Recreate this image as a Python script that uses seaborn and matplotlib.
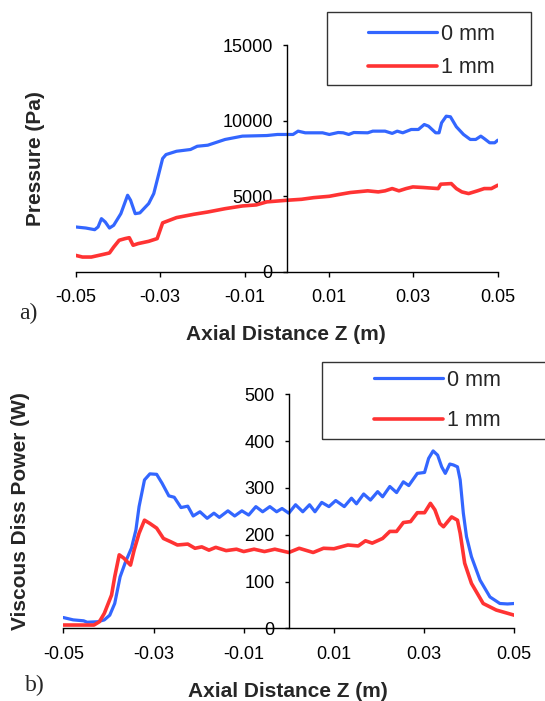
import matplotlib
matplotlib.use("Agg")
import matplotlib.pyplot as plt
from matplotlib.patches import Rectangle
import seaborn as sns
import pandas as pd

# ---------------- data ----------------
series_labels = ["0 mm", "1 mm"]
x_ticks = [-0.05, -0.03, -0.01, 0.01, 0.03, 0.05]
x_tick_labels = ["-0.05", "-0.03", "-0.01", "0.01", "0.03", "0.05"]
p_ticks = [0, 5000, 10000, 15000]
w_ticks = [0, 100, 200, 300, 400, 500]

# (a) Pressure, 0 mm
p0_z = [-0.05, -0.0476, -0.0455, -0.0447, -0.0439, -0.043, -0.042, -0.041, -0.0393, -0.0377,
        -0.037, -0.0359, -0.0348, -0.0327, -0.0315, -0.0303, -0.0294, -0.0286, -0.0261, -0.0228,
        -0.0212, -0.0187, -0.0146, -0.0105, -0.0047, -0.0022, 0.0015, 0.0027, 0.0044, 0.0085,
        0.0101, 0.0122, 0.0134, 0.0147, 0.0159, 0.0192, 0.0204, 0.0233, 0.025, 0.0262,
        0.0275, 0.0295, 0.0312, 0.0326, 0.0336, 0.0353, 0.0361, 0.0367, 0.0378, 0.0388,
        0.0402, 0.0419, 0.0435, 0.0448, 0.046, 0.0468, 0.0481, 0.0493, 0.05]
p0_val = [2960, 2890, 2780, 2960, 3510, 3290, 2890, 3070, 3840, 5060,
          4730, 3840, 3890, 4510, 5170, 6490, 7490, 7750, 7970, 8085,
          8300, 8370, 8750, 8970, 9010, 9080, 9080, 9300, 9190, 9190,
          9080, 9210, 9190, 9080, 9210, 9190, 9300, 9300, 9150, 9300,
          9190, 9410, 9410, 9740, 9630, 9190, 9190, 9850, 10290, 10250,
          9590, 9080, 8750, 8750, 8970, 8810, 8530, 8530, 8700]

# (a) Pressure, 1 mm
p1_z = [-0.05, -0.0484, -0.0463, -0.0434, -0.042, -0.041, -0.0397, -0.0383, -0.0373, -0.0364,
        -0.0352, -0.0327, -0.0307, -0.0294, -0.0278, -0.0261, -0.022, -0.0187, -0.0146, -0.0105,
        -0.0072, -0.0047, 0.0002, 0.0035, 0.0064, 0.0101, 0.0122, 0.0151, 0.0192, 0.0217,
        0.0233, 0.025, 0.0266, 0.0283, 0.0299, 0.0324, 0.0359, 0.0365, 0.039, 0.0402,
        0.0415, 0.0431, 0.0452, 0.0468, 0.0485, 0.05]
p1_val = [1080, 970, 970, 1150, 1240, 1630, 2080, 2190, 2250, 1750,
          1860, 2010, 2190, 3230, 3400, 3580, 3800, 3950, 4170, 4350,
          4420, 4620, 4730, 4790, 4900, 4990, 5100, 5240, 5350, 5280,
          5350, 5500, 5350, 5500, 5610, 5570, 5500, 5790, 5830, 5500,
          5280, 5170, 5350, 5500, 5500, 5720]

# (b) Viscous dissipation power, 0 mm
w0_z = [-0.05, -0.0478, -0.0455, -0.0447, -0.0424, -0.0409, -0.0397, -0.0386, -0.0374, -0.0362,
        -0.0349, -0.0339, -0.0332, -0.032, -0.0308, -0.0293, -0.0281, -0.0266, -0.0254, -0.0239,
        -0.0224, -0.0212, -0.0197, -0.0181, -0.0166, -0.0154, -0.0135, -0.012, -0.0104, -0.0089,
        -0.0073, -0.0058, -0.0042, -0.0027, -0.0015, 0.0, 0.0015, 0.0031, 0.0046, 0.0058,
        0.0073, 0.0089, 0.0104, 0.0123, 0.0139, 0.015, 0.0166, 0.0181, 0.0197, 0.0208,
        0.0224, 0.0239, 0.0254, 0.0266, 0.0285, 0.0301, 0.031, 0.032, 0.033, 0.0339,
        0.0347, 0.0357, 0.0365, 0.0374, 0.038, 0.0387, 0.0394, 0.0405, 0.0424, 0.0446,
        0.0468, 0.0485, 0.05]
w0_val = [23, 18, 16, 13, 14, 18, 28, 53, 110, 142,
          171, 210, 260, 317, 330, 329, 310, 283, 280, 258,
          261, 240, 249, 235, 246, 237, 251, 240, 251, 242,
          260, 249, 260, 249, 256, 246, 264, 249, 264, 249,
          269, 260, 273, 260, 278, 266, 287, 274, 292, 281,
          303, 290, 313, 305, 331, 333, 363, 379, 370, 345,
          331, 351, 349, 345, 317, 246, 196, 153, 103, 67,
          53, 52, 53]

# (b) Viscous dissipation power, 1 mm
w1_z = [-0.05, -0.0432, -0.042, -0.0409, -0.0393, -0.0386, -0.0376, -0.0366, -0.0351, -0.0343,
        -0.0332, -0.032, -0.0308, -0.0293, -0.0278, -0.0262, -0.0247, -0.0224, -0.0208, -0.0193,
        -0.0177, -0.0162, -0.0139, -0.0116, -0.01, -0.0077, -0.0054, -0.0031, 0.0, 0.0023,
        0.0054, 0.0077, 0.01, 0.0131, 0.0154, 0.017, 0.0185, 0.0208, 0.0224, 0.0239,
        0.0254, 0.027, 0.0285, 0.0301, 0.0314, 0.0324, 0.0335, 0.0343, 0.0361, 0.0374,
        0.038, 0.039, 0.0405, 0.0431, 0.046, 0.05]
w1_val = [7, 7, 14, 32, 71, 110, 157, 150, 135, 167,
          203, 231, 224, 214, 192, 185, 178, 180, 171, 174,
          167, 173, 166, 169, 164, 169, 164, 169, 162, 171,
          162, 171, 170, 178, 176, 187, 182, 192, 207, 207,
          226, 228, 247, 247, 267, 253, 224, 217, 238, 231,
          203, 139, 96, 53, 39, 28]

# ---------------- style ----------------
sns.set_style("white")
plt.rcParams["font.family"] = ["Liberation Sans", "DejaVu Sans"]
BLUE = "#3366ff"
RED = "#ff3333"
W, H = 545, 701

fig = plt.figure(figsize=(5.45, 7.01), dpi=100)


def px_axes(x0, y0, x1, y1):
    return fig.add_axes([x0 / W, 1 - y1 / H, (x1 - x0) / W, (y1 - y0) / H])


def style_axes(ax, yticks, ylim):
    ax.set_xlim(-0.05, 0.05)
    ax.set_ylim(*ylim)
    for s in ["top", "right"]:
        ax.spines[s].set_visible(False)
    ax.spines["left"].set_position(("data", 0))
    for s in ["left", "bottom"]:
        ax.spines[s].set_color("black")
        ax.spines[s].set_linewidth(1.0)
    ax.set_xticks(x_ticks)
    ax.set_xticklabels(x_tick_labels)
    ax.set_yticks(yticks)
    ax.set_yticklabels([str(v) for v in yticks])
    ax.tick_params(axis="x", direction="out", length=3.6, width=1, pad=9,
                   labelsize=13, bottom=True, colors="black")
    ax.tick_params(axis="y", direction="out", length=3.1, width=1, pad=7,
                   labelsize=13, left=True, colors="black")
    ax.grid(False)
    ax.patch.set_alpha(0)


# ---------- (a) ----------
ax1 = px_axes(75.7, 45, 497.7, 271.7)
df_p0 = pd.DataFrame({"z": p0_z, "v": p0_val})
df_p1 = pd.DataFrame({"z": p1_z, "v": p1_val})
sns.lineplot(data=df_p0, x="z", y="v", ax=ax1, color=BLUE, lw=2.3,
             label=series_labels[0], estimator=None, sort=False)
sns.lineplot(data=df_p1, x="z", y="v", ax=ax1, color=RED, lw=2.6,
             label=series_labels[1], estimator=None, sort=False)
style_axes(ax1, p_ticks, (0, 15000))
ax1.set_xlabel("Axial Distance Z (m)", fontsize=15, fontweight="bold")
ax1.set_ylabel("Pressure (Pa)", fontsize=15, fontweight="bold")
ax1.xaxis.set_label_coords(0.497, -0.279)
ax1.xaxis.label.set_va("center")
ax1.yaxis.set_label_coords(-0.095, 0.50)
ax1.yaxis.label.set_va("center")

# ---------- (b) ----------
ax2 = px_axes(63.3, 394.3, 514.3, 628.3)
df_w0 = pd.DataFrame({"z": w0_z, "v": w0_val})
df_w1 = pd.DataFrame({"z": w1_z, "v": w1_val})
sns.lineplot(data=df_w0, x="z", y="v", ax=ax2, color=BLUE, lw=2.3,
             label=series_labels[0], estimator=None, sort=False)
sns.lineplot(data=df_w1, x="z", y="v", ax=ax2, color=RED, lw=2.6,
             label=series_labels[1], estimator=None, sort=False)
style_axes(ax2, w_ticks, (0, 500))
ax2.set_xlabel("Axial Distance Z (m)", fontsize=15, fontweight="bold")
ax2.set_ylabel("Viscous Diss Power (W)", fontsize=15, fontweight="bold")
ax2.xaxis.set_label_coords(0.498, -0.268)
ax2.xaxis.label.set_va("center")
ax2.yaxis.set_label_coords(-0.096, 0.50)
ax2.yaxis.label.set_va("center")

# ---------- legends ----------
def add_legend(ax, frame, anchor, spacing):
    x0, y0, x1, y1 = frame
    fig.patches.append(Rectangle((x0 / W, 1 - y1 / H), (x1 - x0) / W, (y1 - y0) / H,
                                 transform=fig.transFigure, fill=False,
                                 edgecolor="#333333", lw=1.0, zorder=5))
    h, l = ax.get_legend_handles_labels()
    ax.legend(h, l, loc="upper left", bbox_to_anchor=(anchor[0] / W, 1 - anchor[1] / H),
              bbox_transform=fig.transFigure, frameon=False, fontsize=15.5,
              handlelength=3.2, handletextpad=0.2, borderpad=0, borderaxespad=0,
              labelspacing=spacing)


add_legend(ax1, (327.3, 12.3, 530.7, 84.7), (367.7, 23.5), 0.6)
add_legend(ax2, (322, 362, 560, 439), (374, 370.0), 0.9)

# ---------- panel labels ----------
fig.text(28 / W, 1 - 313 / H, "a)", family=["Liberation Serif", "DejaVu Serif"],
         fontsize=17, ha="center", va="center")
fig.text(35 / W, 1 - 685 / H, "b)", family=["Liberation Serif", "DejaVu Serif"],
         fontsize=17, ha="center", va="center")

fig.savefig("out.png", dpi=100)
